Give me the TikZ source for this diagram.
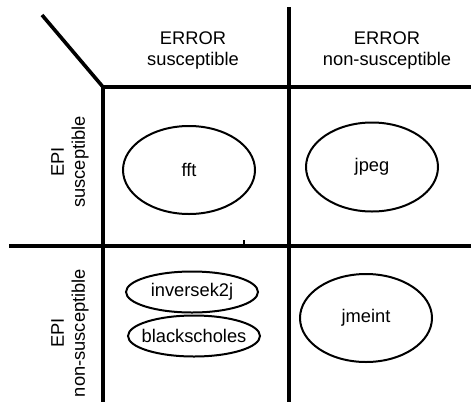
\documentclass[tikz,border=0pt]{standalone}
\usepackage{fontspec}
\setmainfont{Liberation Sans}
\usetikzlibrary{shapes.geometric}

\tikzset{
  grid/.style={line width=3.6pt},
  head/.style={align=center, font=\fontsize{18.3}{21}\selectfont},
  bench/.style={ellipse, draw, line width=2pt, inner sep=0pt, minimum width=132pt,
    label={[head]center:#1}},
}

\begin{document}
\begin{tikzpicture}[x=1pt,y=-1pt]
\useasboundingbox (0,0) rectangle (471,402);

\draw[grid] (42,15) -- (103,87) -- (471,87);
\draw[grid] (103,87) -- (103,402);
\draw[grid] (289,7) -- (289,402);
\draw[grid] (9,246) -- (471,246);
\draw[line width=2pt] (244,240) -- (244,245);

\node[head] (errs) at (193,51) {ERROR\\susceptible};
\node[head] (errn) at (387,51) {ERROR\\non-susceptible};
\node[head, rotate=90] (epis) at (70,162) {EPI\\susceptible};
\node[head, rotate=90] (epin) at (70,333) {EPI\\non-susceptible};

\node[bench=fft, minimum height=88pt] (fft) at (189,170) {};
\node[bench=jpeg, minimum height=89pt] (jpeg) at (372,167) {};
\node[bench=inversek2j, minimum height=41pt] (inv) at (192,292) {};
\node[bench=blackscholes, minimum height=41pt] (bs) at (194,336) {};
\node[bench=jmeint, minimum height=88pt] (jmeint) at (366,318) {};

\end{tikzpicture}
\end{document}
